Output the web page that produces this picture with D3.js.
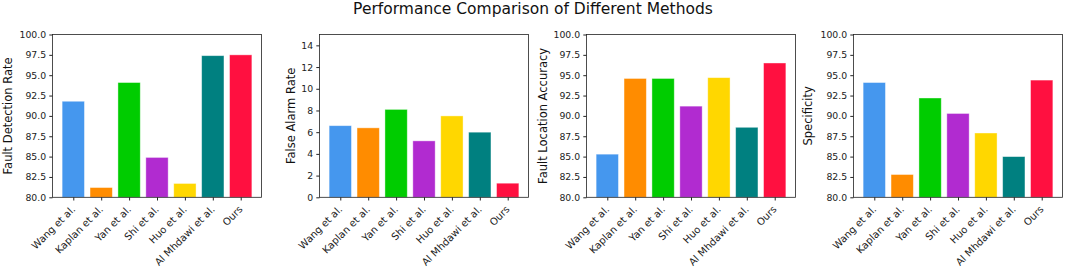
<!DOCTYPE html>
<html>
<head>
<meta charset="utf-8">
<script src="https://cdn.jsdelivr.net/npm/d3@7.9.0/dist/d3.min.js"></script>
<style>
  body { margin: 0; background: #fff; }
  svg { display: block; font-family: "DejaVu Sans", sans-serif; }
</style>
</head>
<body>
<svg id="chart" width="1065" height="267"></svg>
<script>
const methods = ['Wang et al.', 'Kaplan et al.', 'Yan et al.', 'Shi et al.', 'Huo et al.', 'Al Mhdawi et al.', 'Ours'];
const colors = ['#4597ee', '#ff8c00', '#00cc00', '#b12bd0', '#ffd700', '#008080', '#ff1040'];

const detectionRate = [91.8, 81.2, 94.1, 84.9, 81.7, 97.4, 97.5];
const falseAlarmRate = [6.6, 6.4, 8.1, 5.2, 7.5, 6.0, 1.3];
const locationAccuracy = [85.3, 94.6, 94.6, 91.2, 94.7, 88.6, 96.5];
const specificity = [94.1, 82.8, 92.2, 90.3, 87.9, 85.0, 94.4];

const pctTicks = [80, 82.5, 85, 87.5, 90, 92.5, 95, 97.5, 100];
const farTicks = [0, 2, 4, 6, 8, 10, 12, 14];

const panels = [
  { label: 'Fault Detection Rate', values: detectionRate, domain: [80, 100], ticks: pctTicks, fmt: d3.format('.1f'), left: 52.5, ylab: 8 },
  { label: 'False Alarm Rate', values: falseAlarmRate, domain: [0, 15], ticks: farTicks, fmt: d3.format('d'), left: 319.5, ylab: 291 },
  { label: 'Fault Location Accuracy', values: locationAccuracy, domain: [80, 100], ticks: pctTicks, fmt: d3.format('.1f'), left: 586.5, ylab: 543 },
  { label: 'Specificity', values: specificity, domain: [80, 100], ticks: pctTicks, fmt: d3.format('.1f'), left: 853.5, ylab: 808 }
];

const svg = d3.select('#chart');
const W = 209, plotTop = 34.5, plotBottom = 197.3;
const FONT = '"DejaVu Sans", sans-serif';

svg.append('text')
  .attr('x', 533).attr('y', 14)
  .attr('text-anchor', 'middle')
  .attr('font-size', 15.5)
  .attr('fill', '#111')
  .text('Performance Comparison of Different Methods');

panels.forEach(p => {
  const x = d3.scaleLinear().domain([-0.745, 6.745]).range([p.left, p.left + W]);
  const y = d3.scaleLinear().domain(p.domain).range([plotBottom, plotTop]);
  const g = svg.append('g');

  // bars
  g.selectAll('rect').data(p.values).join('rect')
    .attr('x', (d, i) => x(i - 0.4))
    .attr('width', (d, i) => x(i + 0.4) - x(i - 0.4))
    .attr('y', d => y(d))
    .attr('height', d => y(p.domain[0]) - y(d))
    .attr('fill', (d, i) => colors[i])
    .attr('stroke', 'rgba(255,255,255,0.5)')
    .attr('stroke-width', 0.8);

  // y axis
  const yAxis = g.append('g')
    .attr('transform', `translate(${p.left},0)`)
    .call(d3.axisLeft(y).tickValues(p.ticks).tickFormat(p.fmt).tickSize(3.2).tickPadding(3.2));
  yAxis.attr('font-family', FONT).attr('font-size', 9.3);
  yAxis.select('.domain').remove();
  yAxis.selectAll('text').attr('fill', '#222');
  yAxis.selectAll('line').attr('stroke', '#222');

  // x axis, labels rotated 45deg and right-aligned to the tick
  const xAxis = g.append('g')
    .attr('transform', `translate(0,${plotBottom})`)
    .call(d3.axisBottom(x).tickValues(d3.range(methods.length)).tickFormat(i => methods[i]).tickSize(3.2));
  xAxis.attr('font-family', FONT).attr('font-size', 10);
  xAxis.select('.domain').remove();
  xAxis.selectAll('line').attr('stroke', '#222');
  xAxis.selectAll('text')
    .attr('fill', '#222')
    .attr('text-anchor', 'end')
    .attr('dy', null)
    .attr('y', 0)
    .attr('transform', 'translate(-3,7.5) rotate(-45)')
    .attr('dominant-baseline', 'hanging');

  // frame
  g.append('rect')
    .attr('x', p.left).attr('y', plotTop)
    .attr('width', W).attr('height', plotBottom - plotTop)
    .attr('fill', 'none').attr('stroke', '#222').attr('stroke-width', 0.8);

  svg.append('text')
    .attr('transform', `translate(${p.ylab},${(plotTop + plotBottom) / 2}) rotate(-90)`)
    .attr('text-anchor', 'middle')
    .attr('dominant-baseline', 'central')
    .attr('font-size', 11.5)
    .attr('fill', '#111')
    .text(p.label);
});
</script>
</body>
</html>
